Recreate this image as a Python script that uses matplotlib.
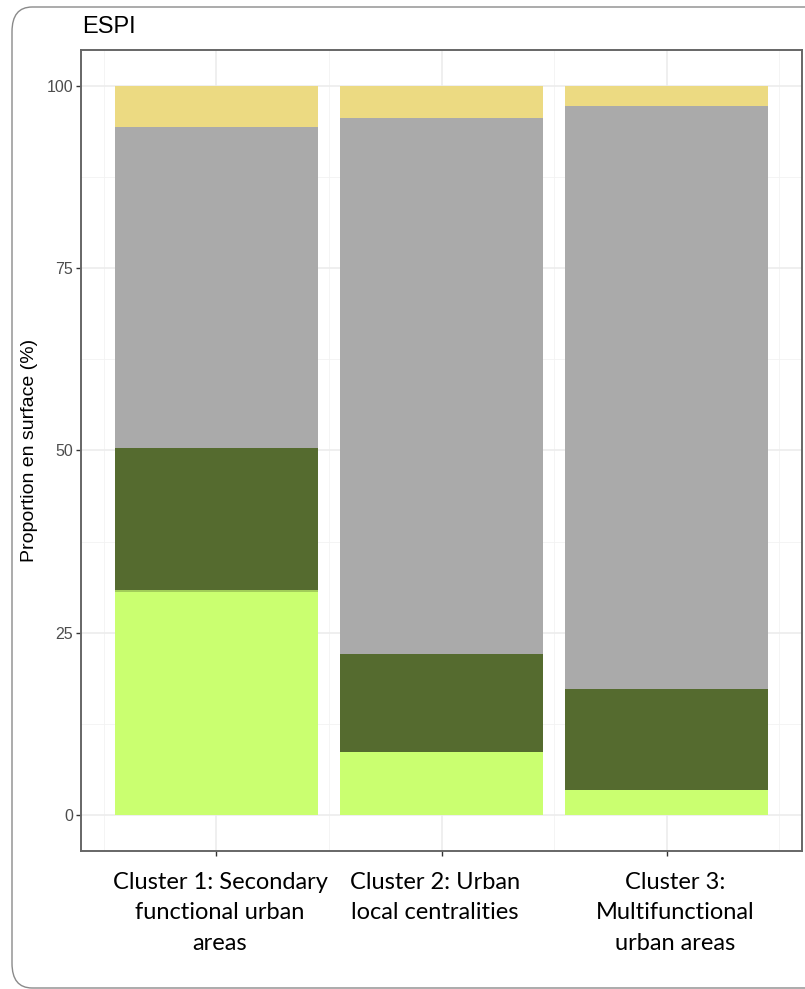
import matplotlib.pyplot as plt
import numpy as np
from matplotlib.patches import FancyBboxPatch

clusters = ["Cluster 1: Secondary\nfunctional urban\nareas",
            "Cluster 2: Urban\nlocal centralities",
            "Cluster 3:\nMultifunctional\nurban areas"]

# stacked shares (%), bottom to top
light_green = [30.5, 8.65, 3.4]
mid_green = [0.3, 0.0, 0.0]
dark_green = [19.5, 13.35, 13.8]
grey = [44.1, 73.7, 80.05]
yellow = [5.6, 4.3, 2.75]

layers = [light_green, mid_green, dark_green, grey, yellow]
colors = ["#CAFF70", "#A2CD5A", "#556B2F", "#AAAAAA", "#ECDA82"]


def main():
    fig = plt.figure(figsize=(8.05, 9.89), dpi=100)

    # outer rounded frame (runs off the right edge)
    frame = FancyBboxPatch((12 / 805, 1 - 988 / 989), 1.2, 981 / 989,
                           boxstyle="round,pad=0,rounding_size=0.025",
                           transform=fig.transFigure, facecolor="none",
                           edgecolor="#8a8a8a", linewidth=1.0, clip_on=False)
    fig.patches.append(frame)

    ax = fig.add_axes([81 / 805, 1 - 851 / 989, 721 / 805, 801 / 989])
    x = np.arange(1, len(clusters) + 1)
    bottom = np.zeros(len(clusters))
    for vals, col in zip(layers, colors):
        ax.bar(x, vals, width=0.9, bottom=bottom, color=col, linewidth=0, zorder=2)
        bottom += np.array(vals)

    ax.set_xlim(0.4, 3.6)
    ax.set_ylim(-5, 105)
    ax.set_yticks([0, 25, 50, 75, 100])
    ax.set_yticklabels(["0", "25", "50", "75", "100"], color="#4D4D4D", fontsize=11.5,
                       family="Liberation Sans")
    ax.set_xticks(x)
    ax.set_xticklabels([])
    ax.set_xticks([0.5, 1.5, 2.5, 3.5], minor=True)
    ax.set_yticks([12.5, 37.5, 62.5, 87.5], minor=True)
    ax.grid(True, which="major", color="#EBEBEB", linewidth=1.1, zorder=0)
    ax.grid(True, which="minor", color="#F2F2F2", linewidth=0.6, zorder=0)
    ax.set_axisbelow(True)
    ax.tick_params(which="major", length=3.5, width=1.0, color="#333333", pad=2)
    ax.tick_params(which="minor", length=0)
    for s in ax.spines.values():
        s.set_color("#666666")
        s.set_linewidth(1.4)

    ax.set_ylabel("Proportion en surface (%)", fontsize=14, family="Liberation Sans")
    ax.yaxis.set_label_coords(-0.06, 0.5)

    fig.text(82 / 805, 1 - 27 / 989, "ESPI", fontsize=17, family="Liberation Sans",
             va="center", ha="left")

    # category labels (placed as in the reference)
    label_x = [220, 435, 675]
    for lx, txt in zip(label_x, clusters):
        fig.text(lx / 805, 1 - 872 / 989, txt, fontsize=17, family="Lato",
                 ha="center", va="top", multialignment="center",
                 linespacing=1.55)

    fig.savefig("out.png", dpi=100)


if __name__ == '__main__':
    main()
